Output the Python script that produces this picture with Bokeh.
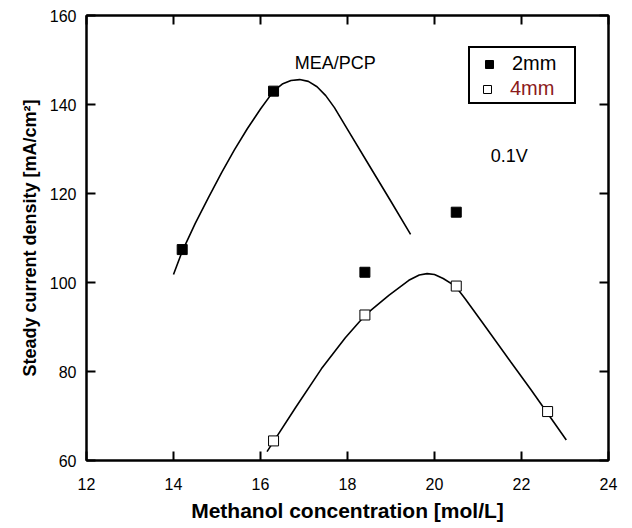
from bokeh.plotting import figure
from bokeh.models import Range1d, FixedTicker, LinearAxis, Legend, LegendItem, Label
from bokeh.embed import file_html
from bokeh.resources import INLINE

# ---- data ----
x_ticks = [12, 14, 16, 18, 20, 22, 24]
y_ticks = [60, 80, 100, 120, 140, 160]

conc_2mm = [14.2, 16.3, 18.4, 20.5]
current_2mm = [107.4, 143.0, 102.3, 115.8]

conc_4mm = [16.3, 18.4, 20.5, 22.6]
current_4mm = [64.4, 92.7, 99.2, 71.0]

fit_2mm_x = [14.0, 14.2, 14.5, 14.8, 15.1, 15.4, 15.7, 16.0, 16.3, 16.5,
             16.7, 16.9, 17.1, 17.3, 17.5, 17.7, 18.0, 18.5, 19.0, 19.45]
fit_2mm_y = [101.8, 107.0, 113.3, 119.0, 124.6, 129.8, 134.6, 139.0, 143.0, 144.6,
             145.4, 145.6, 145.2, 144.0, 142.0, 139.3, 134.4, 126.3, 118.2, 110.8]

fit_4mm_x = [16.15, 16.31, 16.8, 17.4, 17.95, 18.41, 18.95, 19.41, 19.65, 19.83,
             20.0, 20.2, 20.48, 20.7, 21.13, 21.75, 22.21, 22.57, 23.03]
fit_4mm_y = [62.0, 64.4, 71.8, 80.6, 87.6, 92.7, 97.1, 100.5, 101.7, 102.0,
             101.8, 100.9, 99.2, 96.4, 90.6, 82.2, 76.0, 71.0, 64.6]

FONT = "Liberation Sans"

p = figure(width=624, height=526,
           x_range=Range1d(12, 24), y_range=Range1d(60, 160),
           output_backend="svg", toolbar_location=None,
           min_border_left=86, min_border_right=16,
           min_border_top=15, min_border_bottom=66)

p.xgrid.visible = False
p.ygrid.visible = False
p.outline_line_color = "black"
p.outline_line_width = 2
p.outline_line_alpha = 1
p.background_fill_color = "white"
p.border_fill_color = "white"


def style_axis(ax, ticks, show_labels=True):
    ax.ticker = FixedTicker(ticks=ticks)
    ax.axis_line_color = "black"
    ax.axis_line_width = 2
    ax.major_tick_in = 9
    ax.major_tick_out = 0
    ax.major_tick_line_width = 2
    ax.major_tick_line_color = "black"
    ax.minor_tick_line_color = None
    ax.major_label_text_font = FONT
    if show_labels:
        ax.major_label_text_font_size = "16px"
        ax.major_label_text_color = "black"
    else:
        ax.major_label_text_font_size = "1px"
        ax.major_label_text_color = None
        ax.major_label_standoff = 0


xa = p.xaxis[0]
ya = p.yaxis[0]
style_axis(xa, x_ticks)
style_axis(ya, y_ticks)
xa.major_label_standoff = 17
ya.major_label_standoff = 10

xa.axis_label = "Methanol concentration [mol/L]"
ya.axis_label = "Steady current density [mA/cm\u00b2]"
for ax in (xa, ya):
    ax.axis_label_text_font = FONT
    ax.axis_label_text_font_style = "bold"
    ax.axis_label_text_color = "black"
xa.axis_label_text_font_size = "21px"
ya.axis_label_text_font_size = "18px"
xa.axis_label_standoff = 6
ya.axis_label_standoff = 7

top_ax = LinearAxis()
style_axis(top_ax, x_ticks, show_labels=False)
p.add_layout(top_ax, "above")
right_ax = LinearAxis()
style_axis(right_ax, y_ticks, show_labels=False)
p.add_layout(right_ax, "right")

# fitted curves
p.line(fit_2mm_x, fit_2mm_y, line_color="black", line_width=1.6)
p.line(fit_4mm_x, fit_4mm_y, line_color="black", line_width=1.6)

# points
r2 = p.scatter(conc_2mm, current_2mm, marker="square", size=10,
               fill_color="black", line_color="black")
r4 = p.scatter(conc_4mm, current_4mm, marker="square", size=10,
               fill_color="white", line_color="black", line_width=1)

# annotations
p.add_layout(Label(x=17.72, y=149.4, text="MEA/PCP", text_align="center",
                   text_baseline="middle", text_font=FONT,
                   text_font_size="18px", text_color="black"))
p.add_layout(Label(x=21.72, y=128.5, text="0.1V", text_align="center",
                   text_baseline="middle", text_font=FONT,
                   text_font_size="18px", text_color="black"))

# legend (box with both rows), then a borderless overlay for the red 4mm row
leg_loc = (382, 356)
common = dict(margin=0, glyph_width=30, glyph_height=20, label_standoff=8,
              label_width=58, label_height=20, label_text_font=FONT,
              label_text_font_size="20px", spacing=-3,
              background_fill_color="white", background_fill_alpha=1)
legA = Legend(items=[LegendItem(label="2mm", renderers=[r2]),
                     LegendItem(label="4mm", renderers=[r4])],
              location=leg_loc, padding=4, label_text_color="black",
              border_line_color="black", border_line_width=2,
              border_line_alpha=1, **common)
legB = Legend(items=[LegendItem(label="4mm", renderers=[r4])],
              location=(leg_loc[0] + 2, leg_loc[1] + 2), padding=2,
              label_text_color="#8b1a1a", border_line_alpha=0, **common)
p.add_layout(legA)
p.add_layout(legB)

open("out.html", "w").write(file_html(p, INLINE))
